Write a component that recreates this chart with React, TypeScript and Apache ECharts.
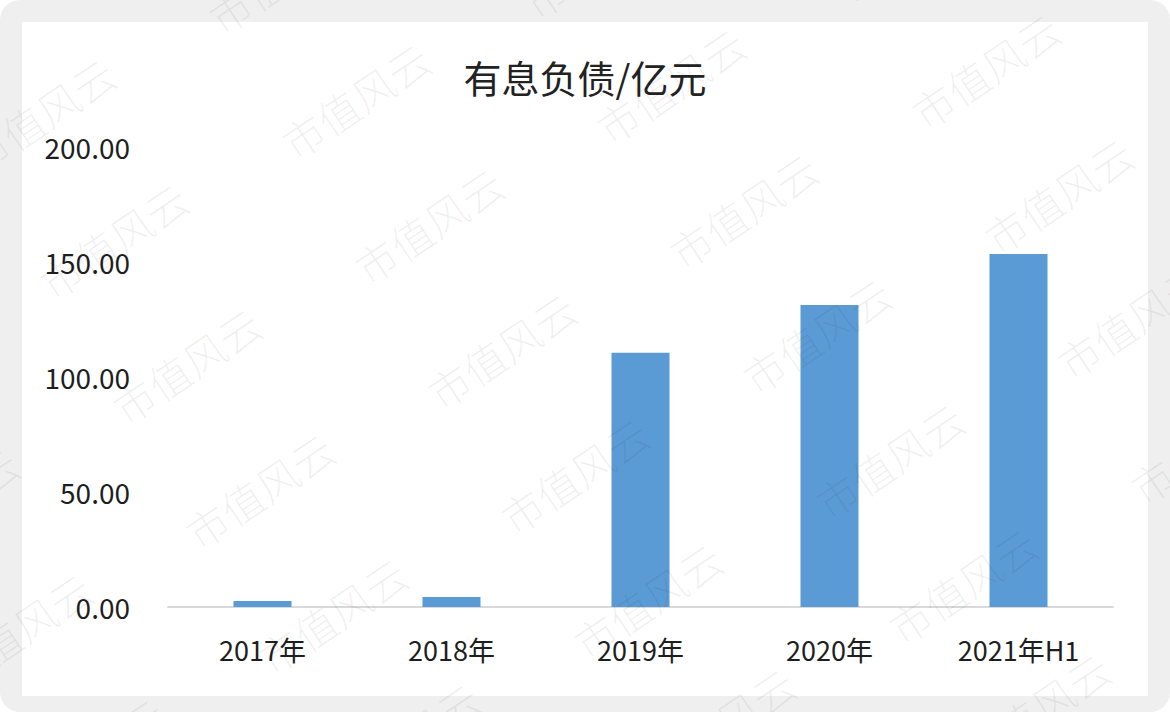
import React, { useEffect, useRef } from "react";
import * as echarts from "echarts";

// 有息负债（亿元）
const categories = ["2017年", "2018年", "2019年", "2020年", "2021年H1"];
const debtValues = [2.6, 4.4, 110.5, 131.3, 153.5];
const yTicks = { min: 0, max: 200, interval: 50 };

const FONT = '"Noto Sans CJK SC", "Noto Sans", sans-serif';
const WATERMARK = "市值风云";

function watermarkTexts() {
  const items: any[] = [];
  for (let r = -1; r <= 5; r++) {
    for (let c = -1; c <= 4; c++) {
      const x = 40 + 73 * r + 315 * c;
      const y = 115 + 125 * r - 15 * c;
      if (x < -120 || x > 1290 || y < -80 || y > 790) continue;
      items.push({
        type: "text",
        x,
        y,
        rotation: (34 * Math.PI) / 180,
        z: 100,
        silent: true,
        style: {
          text: WATERMARK,
          fontSize: 42,
          fontFamily: FONT,
          fontWeight: 300,
          fill: "rgba(0,0,0,0.06)",
          align: "center",
          verticalAlign: "middle",
        },
      });
    }
  }
  return items;
}

export default function App() {
  const ref = useRef<HTMLDivElement>(null);

  useEffect(() => {
    if (!ref.current) return;
    const chart = echarts.init(ref.current, undefined, { renderer: "svg" });
    chart.setOption({
      animation: false,
      backgroundColor: "#ffffff",
      title: {
        text: "有息负债/亿元",
        left: "center",
        top: 52,
        textStyle: {
          fontFamily: FONT,
          fontSize: 38,
          fontWeight: "normal",
          color: "#222222",
        },
      },
      graphic: [
        {
          type: "rect",
          z: -10,
          silent: true,
          shape: { x: 0, y: 0, width: 1170, height: 712, r: 20 },
          style: { fill: "#efefef" },
        },
        {
          type: "rect",
          z: -9,
          silent: true,
          shape: { x: 22, y: 22, width: 1126, height: 674 },
          style: { fill: "#ffffff" },
        },
        ...watermarkTexts(),
      ],
      grid: { left: 168, right: 57, top: 147, bottom: 105, containLabel: false },
      xAxis: {
        type: "category",
        data: categories,
        axisLine: { show: true, lineStyle: { color: "#d9d9d9", width: 2 } },
        axisTick: { show: false },
        axisLabel: {
          fontFamily: FONT,
          fontSize: 27,
          color: "#1e1e1e",
          margin: 29,
        },
      },
      yAxis: {
        type: "value",
        min: yTicks.min,
        max: yTicks.max,
        interval: yTicks.interval,
        splitLine: { show: false },
        axisLine: { show: false },
        axisTick: { show: false },
        axisLabel: {
          fontFamily: FONT,
          fontSize: 28,
          color: "#1e1e1e",
          margin: 38,
          padding: [0, 0, 6, 0],
          formatter: (v: number) => v.toFixed(2),
        },
      },
      series: [
        {
          type: "bar",
          data: debtValues,
          barWidth: 58,
          itemStyle: { color: "#5b9bd5" },
        },
      ],
    });
    return () => chart.dispose();
  }, []);

  return (
    <div
      ref={ref}
      style={{
        position: "absolute",
        left: 0,
        top: 0,
        width: 1170,
        height: 712,
        background: "#ffffff",
      }}
    />
  );
}
